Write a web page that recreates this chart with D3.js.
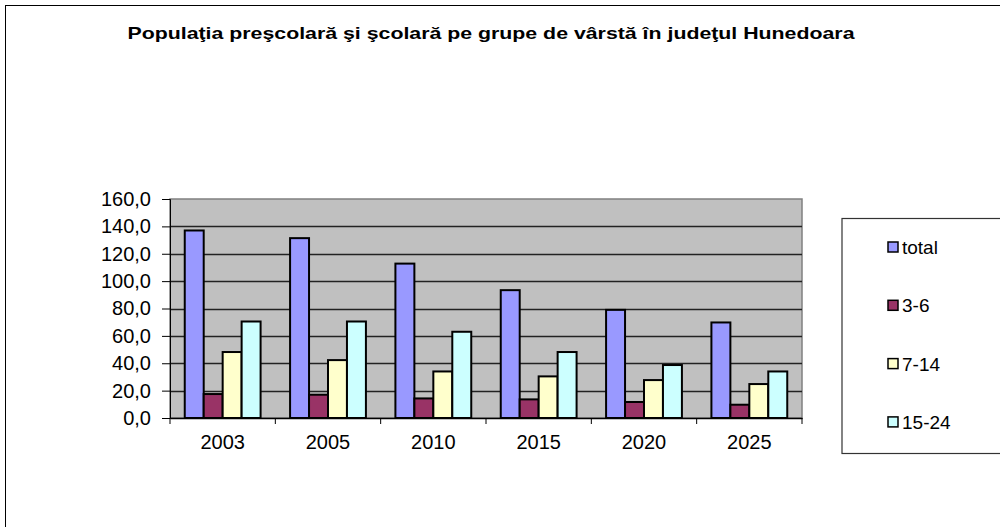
<!DOCTYPE html>
<html>
<head>
<meta charset="utf-8">
<script src="https://cdn.jsdelivr.net/npm/d3@7"></script>
<style>
body { margin: 0; background: #fff; }
text { font-family: "Liberation Sans", Arial, sans-serif; }
</style>
</head>
<body>
<div id="chart"></div>
<script>
// data
const years = ["2003", "2005", "2010", "2015", "2020", "2025"];
const seriesNames = ["total", "3-6", "7-14", "15-24"];
const total = [137.0, 131.4, 112.8, 93.4, 79.0, 69.8];
const age3to6 = [17.5, 17.0, 14.3, 13.6, 11.7, 9.7];
const age7to14 = [48.2, 42.3, 34.0, 30.4, 27.7, 24.8];
const age15to24 = [70.5, 70.5, 63.0, 48.2, 38.7, 34.0];
const yTicks = [0, 20, 40, 60, 80, 100, 120, 140, 160];
const colors = ["#9999FF", "#993366", "#FFFFCC", "#CCFFFF"];

const allSeries = [total, age3to6, age7to14, age15to24];

var width = 1000, height = 527;
var plot = {left: 170, top: 199, right: 802, bottom: 418};

var svg = d3.select("#chart").append("svg")
    .attr("width", width)
    .attr("height", height);

// outer frame
svg.append("rect")
    .attr("x", 5.5).attr("y", 5.5)
    .attr("width", 1010).attr("height", 540)
    .attr("fill", "white")
    .attr("stroke", "black")
    .attr("stroke-width", 1);

svg.append("text")
    .attr("x", 491)
    .attr("y", 39)
    .attr("text-anchor", "middle")
    .attr("font-size", "17px")
    .attr("font-weight", "bold")
    .attr("textLength", 727)
    .attr("lengthAdjust", "spacingAndGlyphs")
    .text("Populaţia preşcolară şi şcolară pe grupe de vârstă în judeţul Hunedoara");

var xScale = d3.scaleBand()
    .domain(years)
    .range([plot.left, plot.right])
    .paddingInner(0.28)
    .paddingOuter(0.14);

var xInner = d3.scaleBand()
    .domain(seriesNames)
    .range([0, xScale.bandwidth()]);

var yScale = d3.scaleLinear()
    .domain([0, 160])
    .range([plot.bottom, plot.top]);

// plot background
svg.append("rect")
    .attr("x", plot.left).attr("y", plot.top)
    .attr("width", plot.right - plot.left)
    .attr("height", plot.bottom - plot.top)
    .attr("fill", "#C0C0C0")
    .attr("stroke", "#808080")
    .attr("stroke-width", 1.5);

// gridlines
svg.append("g")
    .selectAll("line")
    .data(yTicks.slice(1, -1))
    .enter().append("line")
    .attr("x1", plot.left)
    .attr("x2", plot.right)
    .attr("y1", d => Math.round(yScale(d)) + 0.5)
    .attr("y2", d => Math.round(yScale(d)) + 0.5)
    .attr("stroke", "#222")
    .attr("stroke-width", 1.3);

// bars
seriesNames.forEach((name, i) => {
    svg.append("g")
        .selectAll("rect")
        .data(allSeries[i])
        .enter().append("rect")
        .attr("x", (d, j) => xScale(years[j]) + xInner(name))
        .attr("y", d => yScale(d))
        .attr("width", xInner.bandwidth())
        .attr("height", d => yScale(0) - yScale(d))
        .attr("fill", colors[i])
        .attr("stroke", "black")
        .attr("stroke-width", 2);
});

// y axis
var fmt = d => d.toFixed(1).replace(".", ",");
var yAxis = svg.append("g")
    .attr("transform", "translate(" + plot.left + ",0)")
    .call(d3.axisLeft(yScale).tickValues(yTicks).tickFormat(fmt).tickSize(8).tickPadding(11));
yAxis.selectAll("text").attr("font-size", "20px").attr("fill", "#000")
    .style("font-family", "'Liberation Sans', Arial, sans-serif");
yAxis.select(".domain").attr("stroke", "#000");
yAxis.selectAll(".tick line").attr("stroke", "#000");

// x axis (ticks at category boundaries)
var xAxis = svg.append("g")
    .attr("transform", "translate(0," + plot.bottom + ")")
    .call(d3.axisBottom(xScale).tickSize(0).tickPadding(17));
xAxis.selectAll("text").attr("font-size", "20px").attr("fill", "#000")
    .style("font-family", "'Liberation Sans', Arial, sans-serif");
xAxis.select(".domain").attr("stroke", "#000").attr("stroke-width", 1.5);
var step = (plot.right - plot.left) / years.length;
xAxis.selectAll(".boundary")
    .data(d3.range(years.length + 1))
    .enter().append("line")
    .attr("x1", d => plot.left + d * step)
    .attr("x2", d => plot.left + d * step)
    .attr("y1", 0)
    .attr("y2", 6)
    .attr("stroke", "#000");

// legend
svg.append("rect")
    .attr("x", 842).attr("y", 218.5)
    .attr("width", 200).attr("height", 235)
    .attr("fill", "white")
    .attr("stroke", "#333")
    .attr("stroke-width", 1.2);

var legend = svg.selectAll(".legend")
    .data(seriesNames)
    .enter().append("g")
    .attr("transform", (d, i) => "translate(888," + (247 + i * 58.3) + ")");
legend.append("rect")
    .attr("x", 0).attr("y", -5)
    .attr("width", 10).attr("height", 10)
    .attr("fill", (d, i) => colors[i])
    .attr("stroke", "black")
    .attr("stroke-width", 1.5);
legend.append("text")
    .attr("x", 14)
    .attr("y", 7)
    .attr("font-size", "19px")
    .text(d => d);
</script>
</body>
</html>
